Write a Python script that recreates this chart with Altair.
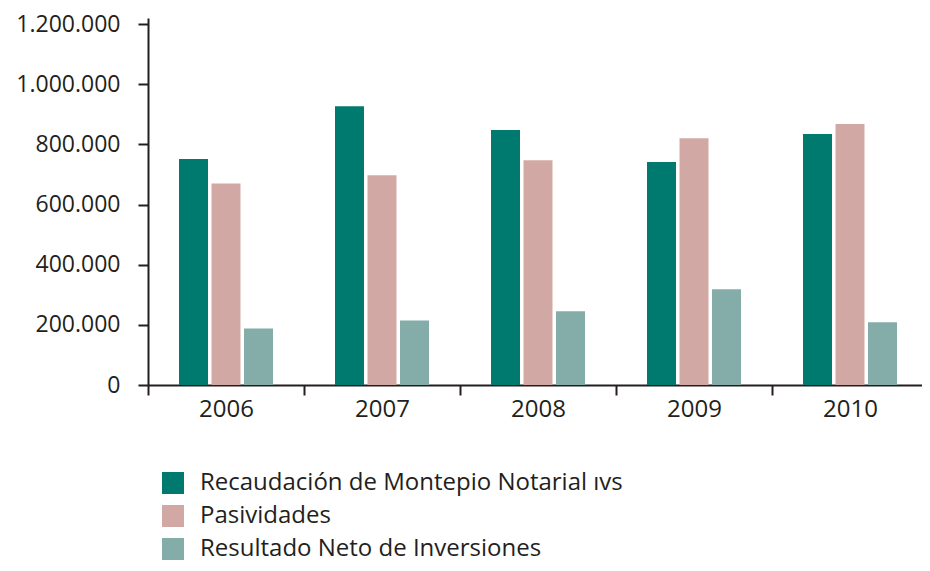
import altair as alt
import pandas as pd

years = ["2006", "2007", "2008", "2009", "2010"]
series = ["Recaudación de Montepio Notarial ıvs", "Pasividades", "Resultado Neto de Inversiones"]
recaudacion = [751000, 927000, 848000, 741000, 834000]
pasividades = [670000, 697000, 747000, 820000, 868000]
inversiones = [188000, 214000, 245000, 318000, 209000]
y_ticks = [0, 200000, 400000, 600000, 800000, 1000000, 1200000]
colors = ["#007A6E", "#D1A8A3", "#84ADA9"]

rows = []
for i, y in enumerate(years):
    for s, vals in zip(series, [recaudacion, pasividades, inversiones]):
        rows.append({"year": y, "serie": s, "value": vals[i]})
df = pd.DataFrame(rows)

FONT = "Open Sans"
TXT = "#231F20"

chart = alt.Chart(df).mark_bar().encode(
    x=alt.X("year:N", sort=years, title=None,
            scale=alt.Scale(paddingInner=0, paddingOuter=0),
            axis=alt.Axis(labelAngle=0, tickBand="extent", tickSize=10, tickWidth=2,
                          domainWidth=2, domainColor=TXT, tickColor=TXT,
                          labelFont=FONT, labelFontSize=24, labelColor=TXT,
                          labelPadding=2, grid=False)),
    xOffset=alt.XOffset("serie:N", sort=series,
                        scale=alt.Scale(paddingInner=0.108, paddingOuter=0.954)),
    y=alt.Y("value:Q", title=None,
            scale=alt.Scale(domain=[0, 1220000], nice=False, zero=True),
            axis=alt.Axis(values=y_ticks, tickSize=10, tickWidth=2, domainWidth=2,
                          domainColor=TXT, tickColor=TXT, grid=False,
                          labelFont=FONT, labelFontSize=23, labelColor=TXT,
                          labelPadding=18,
                          labelExpr="replace(format(datum.value, ','), regexp(',', 'g'), '.')")),
    color=alt.Color("serie:N", sort=series, title=None,
                    scale=alt.Scale(domain=series, range=colors),
                    legend=alt.Legend(orient="none", legendX=13, legendY=453,
                                      direction="vertical", symbolType="square",
                                      symbolSize=484, symbolStrokeWidth=0,
                                      symbolOpacity=1,
                                      labelFont=FONT, labelFontSize=24, labelColor=TXT,
                                      labelOffset=15, rowPadding=9, labelLimit=700)),
).properties(
    width=780, height=367,
    autosize=alt.AutoSizeParams(type="none"),
    padding={"left": 140, "top": 10, "right": -6, "bottom": 178},
).configure_view(stroke=None)

chart.save("out.html", embed_options={"renderer": "svg", "actions": False})
